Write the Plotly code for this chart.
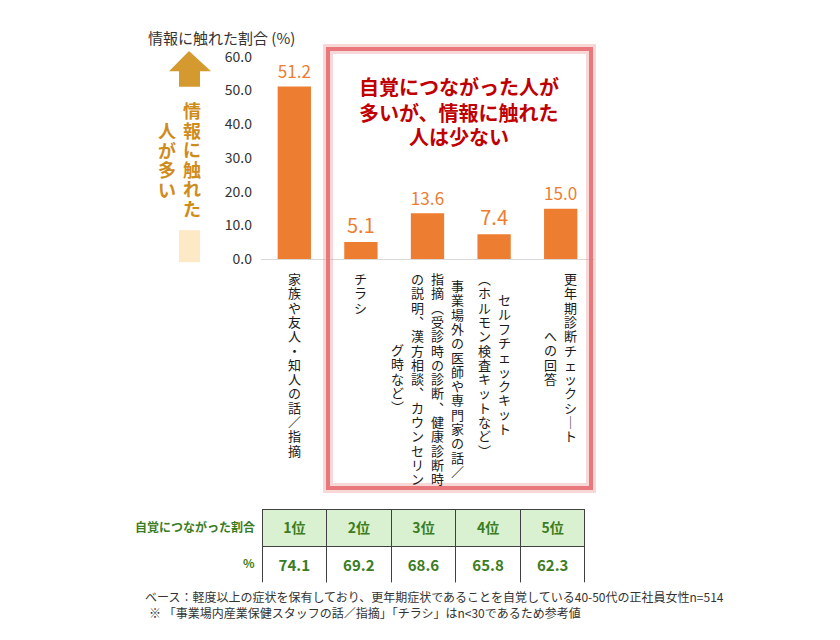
import plotly.graph_objects as go

# データ
categories = ["家族や友人・知人の話／指摘", "チラシ",
              "事業場外の医師や専門家の話／指摘(受診時の診断、健康診断時の説明、漢方相談、カウンセリング時など)",
              "セルフチェックキット(ホルモン検査キットなど)", "更年期診断チェックシートへの回答"]
values = [51.2, 5.1, 13.6, 7.4, 15.0]
label_lines = [
    ["家族や友人・知人の話／指摘"],
    ["チラシ"],
    ["事業場外の医師や専門家の話／", "指摘(受診時の診断、健康診断時", "の説明、漢方相談、カウンセリン", "グ時など)"],
    ["セルフチェックキット", "(ホルモン検査キットなど)"],
    ["更年期診断チェックシート", "への回答"],
]
rank_labels = ["1位", "2位", "3位", "4位", "5位"]
rank_values = [74.1, 69.2, 68.6, 65.8, 62.3]
headline = ["自覚につながった人が", "多いが、情報に触れた", "人は少ない"]

W, H = 840, 640
OFF = 8  # ページ余白の分
FONT = "Noto Sans CJK JP"
ORANGE = "#ed7d31"
GREEN = "#3a7d22"
GOLD = "#d08c1a"


def px(x):
    return (x - OFF) / W


def py(y):
    return 1 - (y - OFF) / H


def note(x, y, text, size, color, xanchor="center", yanchor="middle"):
    return dict(x=px(x), y=py(y), xref="paper", yref="paper", text=text,
                showarrow=False, xanchor=xanchor, yanchor=yanchor,
                font=dict(family=FONT, size=size, color=color))


# 縦書き用の文字置き換え
VMAP = {"(": "︵", ")": "︶", "、": "︑", "ー": "｜"}


def vtext(s, glyph, bold=False):
    # 1文字ずつ改行して縦書きにする（行送りは注記のフォントサイズで決まる）
    out = []
    for ch in s:
        c = VMAP.get(ch, ch)
        if bold:
            c = f"<b>{c}</b>"
        out.append(f'<span style="font-size:{glyph}px">{c}</span>')
    return "<br>".join(out)


fig = go.Figure()
fig.add_trace(go.Bar(
    x=categories, y=values, width=0.5,
    marker=dict(color=ORANGE, line=dict(width=0)),
    text=[f"{v:.1f}" for v in values], textposition="outside",
    textfont=dict(size=20, color=ORANGE, family=FONT),
    cliponaxis=False, hoverinfo="skip",
))

fig.add_trace(go.Table(
    domain=dict(x=[px(262), px(585)], y=[py(590), py(514)]),
    columnwidth=[1] * 5,
    header=dict(values=[f"<b>{r}</b>" for r in rank_labels], height=37,
                fill_color="#d9f1d0", line=dict(color="#404040", width=1),
                font=dict(family=FONT, size=14, color=GREEN), align="center"),
    cells=dict(values=[[f"<b>{v:.1f}</b>"] for v in rank_values], height=36,
               fill_color="white", line=dict(color="#404040", width=1),
               font=dict(family=FONT, size=15, color=GREEN), align="center"),
))

ann = []
# x軸ラベル（縦書き）
pitch = 14.3
for cat, lines in zip(categories, label_lines):
    n = len(lines)
    maxlen = max(len(l) for l in lines)
    for i, line in enumerate(lines):
        xs = (n - 1) / 2 * 20 - i * 20
        off = (maxlen - len(line)) * pitch / 2
        mid = 19 + off + (len(line) - 1) * pitch / 2
        ann.append(dict(x=cat, y=0, xref="x", yref="y", text=vtext(line, 13),
                        showarrow=False, xanchor="center", yanchor="middle",
                        xshift=xs, yshift=-mid,
                        font=dict(family=FONT, size=pitch / 1.3, color="#1a1a1a")))

# 軸タイトル
ann.append(note(146, 27, "情報に触れた割合 (%)", 15, "#333333", xanchor="left"))

# 左側の縦書き注記
for text, cx in [("情報に触れた", 192), ("人が多い", 167)]:
    ann.append(note(cx, 153, vtext(text, 18, bold=True), 19.5 / 1.3, GOLD))

# 赤枠内の見出し
for line, y in zip(headline, [78, 104, 129]):
    ann.append(note(459, y, f"<b>{line}</b>", 20, "#c00000"))

# 表の行ラベル
ann.append(note(257, 532, "<b>自覚につながった割合</b>", 12, GREEN, xanchor="right"))
ann.append(note(257, 569, "<b>%</b>", 12, GREEN, xanchor="right"))

# 注釈
ann.append(note(143, 604, "ベース：軽度以上の症状を保有しており、更年期症状であることを自覚している40-50代の正社員女性n=514",
                12, "#333333", xanchor="left"))
ann.append(note(147, 621, "※ 「事業場内産業保健スタッフの話／指摘」「チラシ」はn<30であるため参考値",
                12, "#333333", xanchor="left"))

arrow = [(169, 62), (189, 41), (211, 62), (200, 62), (200, 78), (179, 78), (179, 62)]
path = "M " + " L ".join(f"{px(x):.4f},{py(y):.4f}" for x, y in arrow) + " Z"

shapes = [
    dict(type="path", path=path, xref="paper", yref="paper",
         fillcolor="#d49a30", line=dict(width=0)),
    dict(type="rect", xref="paper", yref="paper", x0=px(179), x1=px(200), y0=py(259), y1=py(226),
         fillcolor="#fde9c6", line=dict(width=0)),
    dict(type="rect", xref="paper", yref="paper", x0=px(328), x1=px(591), y0=py(492), y1=py(39),
         line=dict(color="rgba(236,140,140,0.35)", width=10)),
    dict(type="rect", xref="paper", yref="paper", x0=px(328), x1=px(591), y0=py(492), y1=py(39),
         line=dict(color="#e8787b", width=4)),
]

fig.update_layout(
    width=W, height=H,
    margin=dict(l=0, r=0, t=0, b=0),
    paper_bgcolor="white", plot_bgcolor="white",
    showlegend=False,
    font=dict(family=FONT),
    xaxis=dict(domain=[px(261), px(594)], type="category", range=[-0.5, 4.5],
               showticklabels=False, showgrid=False, zeroline=False,
               showline=True, linecolor="#d9d9d9", linewidth=1, ticks=""),
    yaxis=dict(domain=[py(256), py(47)], range=[0, 60], dtick=10, tickformat=".1f",
               showgrid=False, zeroline=False, showline=False, ticks="",
               ticklabelstandoff=8,
               tickfont=dict(family=FONT, size=14, color="#333333")),
    annotations=ann, shapes=shapes,
)

fig.write_html("out.html")
